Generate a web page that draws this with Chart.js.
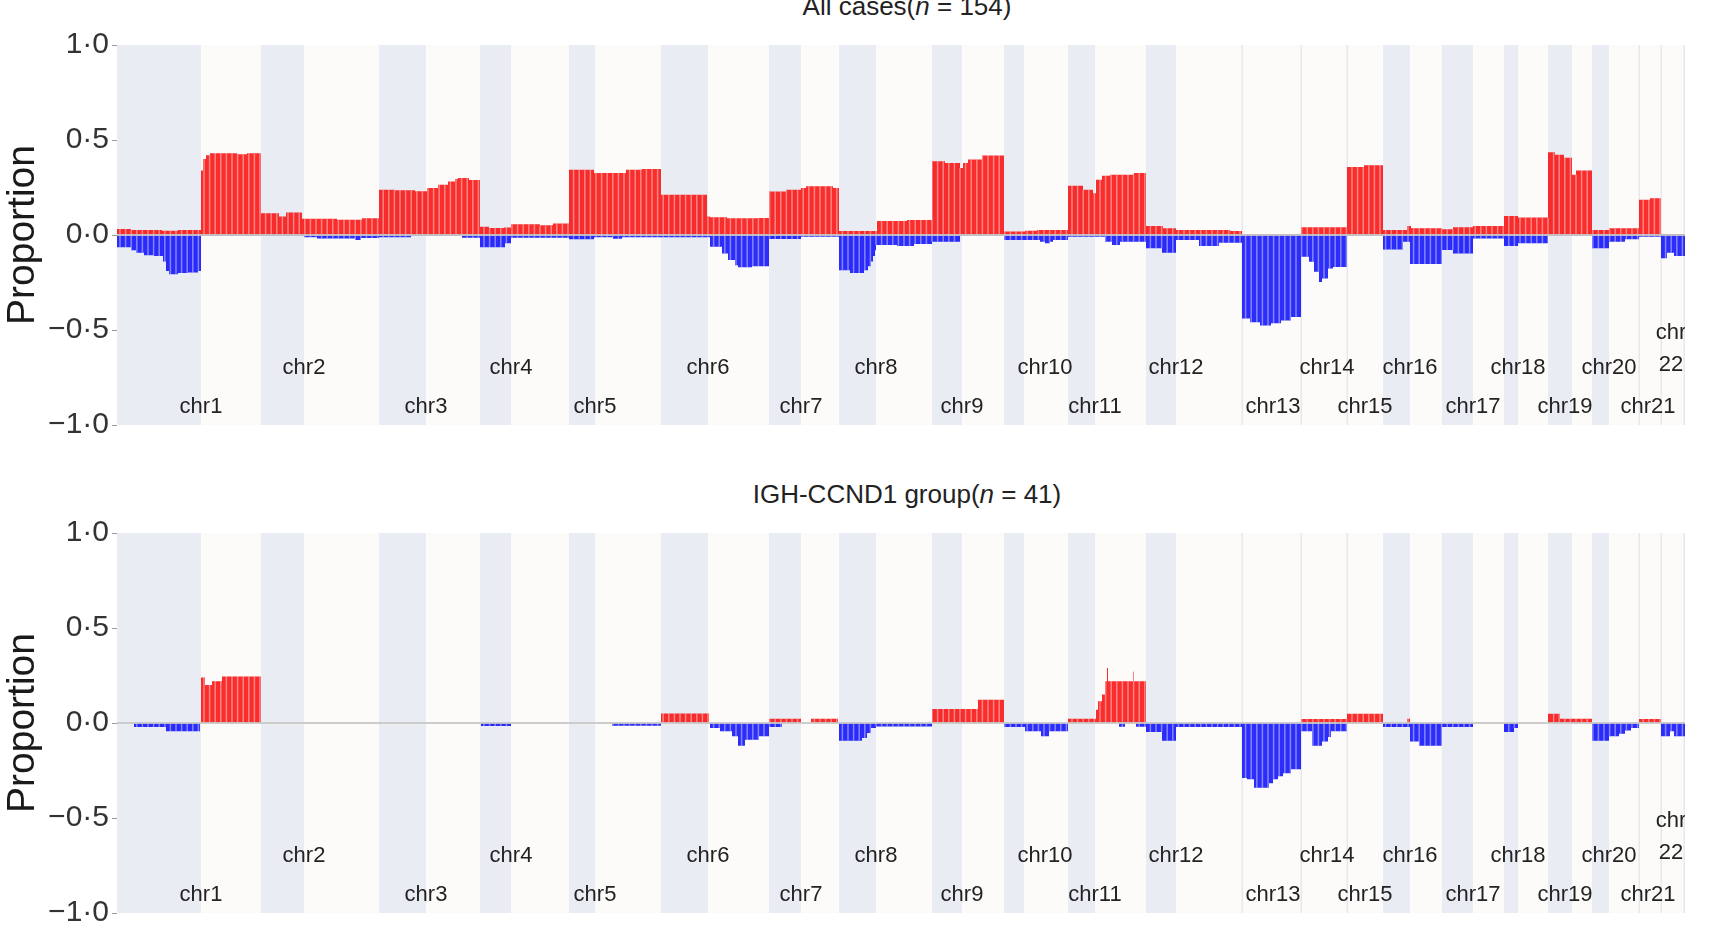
<!DOCTYPE html>
<html><head><meta charset="utf-8">
<script src="https://cdn.jsdelivr.net/npm/chart.js@4.4.1/dist/chart.umd.min.js"></script>
<style>
html,body{margin:0;padding:0;background:#fff;width:1724px;height:946px;overflow:hidden;font-family:"Liberation Sans",Arial,sans-serif;}
.title{position:absolute;left:0;width:1814px;text-align:center;font-size:26px;line-height:30px;color:#222;white-space:nowrap;}
canvas{position:absolute;left:0;}
</style></head><body>
<div class="title" style="top:-9px">All cases(<i>n</i> = 154)</div>
<canvas id="c1" width="1724" height="460" style="top:0"></canvas>
<div class="title" style="top:479px">IGH-CCND1 group(<i>n</i> = 41)</div>
<canvas id="c2" width="1724" height="486" style="top:460px"></canvas>
<script>
// ---------- data ----------
const chromosomes = ['chr1','chr2','chr3','chr4','chr5','chr6','chr7','chr8','chr9','chr10','chr11',
  'chr12','chr13','chr14','chr15','chr16','chr17','chr18','chr19','chr20','chr21','chr22'];
// chromosome extents in plot bins, p-arm lengths (0 = acrocentric), and label anchor bins
const chromLength = [144,118,101,89,92,108,70,93,72,64,78,96,59,46,36,59,62,44,44,47,22,24];
const pArmLength  = [84,43,47,31,26,47,32,37,30,20,27,30,0,0,0,27,31,14,24,17,0,0];
const labelAt     = [84,187,309,394,478,591,684,759,845,928,978,1059,1156,1210,1248,1293,1356,1401,1448,1492,1531,1554];
const yTicks = [-1, -0.5, 0, 0.5, 1];

// step profiles: [bin where the value starts, proportion]
const allGain = [[0,0.032],[14,0.026],[45,0.023],[61,0.026],[84,0.34],[86,0.40],[89,0.42],[93,0.43],[120,0.425],[130,0.43],
[144,0.115],[162,0.097],[169,0.118],[185,0.085],[220,0.08],[245,0.088],
[262,0.238],[278,0.235],[298,0.23],[310,0.247],[321,0.265],[331,0.282],[338,0.295],[341,0.30],[352,0.29],
[363,0.044],[372,0.037],[387,0.04],[394,0.056],[423,0.051],[436,0.06],
[452,0.344],[477,0.326],[509,0.344],[525,0.347],
[544,0.212],[590,0.097],[593,0.093],[610,0.088],[640,0.09],
[652,0.229],[669,0.238],[684,0.247],[689,0.256],[716,0.247],
[722,0.021],[760,0.074],[790,0.079],
[815,0.388],[828,0.379],[843,0.353],[846,0.379],[851,0.397],[865,0.418],
[887,0.018],[908,0.023],[920,0.026],
[951,0.259],[966,0.238],[976,0.22],[979,0.291],[985,0.312],[993,0.317],[1017,0.326],
[1029,0.048],[1046,0.035],[1059,0.026],[1113,0.021],
[1125,0.004],
[1184,0.041],
[1230,0.358],[1247,0.367],
[1266,0.026],[1290,0.048],[1294,0.035],
[1325,0.03],[1336,0.041],[1356,0.048],
[1387,0.10],[1401,0.092],
[1431,0.436],[1438,0.423],[1447,0.406],[1455,0.317],[1459,0.34],
[1475,0.026],[1492,0.035],
[1522,0.185],[1533,0.194],
[1544,0.005],[1568,0.005]];

const allLoss = [[0,-0.065],[14,-0.08],[19,-0.093],[27,-0.106],[37,-0.11],[46,-0.14],[49,-0.19],[52,-0.206],[61,-0.2],[71,-0.198],[81,-0.19],[84,-0.004],
[144,-0.004],[187,-0.012],[200,-0.018],[238,-0.026],[244,-0.016],
[262,-0.012],[294,-0.004],[345,-0.014],
[363,-0.065],[388,-0.044],[394,-0.014],
[452,-0.023],[477,-0.012],[496,-0.02],[505,-0.012],
[544,-0.012],[593,-0.062],[605,-0.097],[611,-0.132],[618,-0.159],[621,-0.17],[635,-0.164],
[652,-0.021],[684,-0.009],
[722,-0.185],[733,-0.2],[747,-0.185],[751,-0.165],[754,-0.14],[756,-0.11],[758,-0.08],[759,-0.053],[780,-0.058],[797,-0.048],
[815,-0.035],[843,-0.003],
[887,-0.026],[923,-0.035],[928,-0.044],[933,-0.035],[936,-0.026],
[951,-0.009],[988,-0.035],[995,-0.053],[1003,-0.035],
[1029,-0.07],[1045,-0.093],[1059,-0.026],[1082,-0.058],[1102,-0.041],
[1125,-0.44],[1133,-0.459],[1143,-0.476],[1154,-0.464],[1164,-0.45],[1174,-0.432],
[1184,-0.115],[1192,-0.141],[1197,-0.194],[1202,-0.247],[1205,-0.229],[1211,-0.176],[1216,-0.168],
[1230,-0.002],
[1266,-0.076],[1286,-0.035],[1293,-0.153],
[1325,-0.079],[1336,-0.097],[1356,-0.019],
[1387,-0.058],[1401,-0.044],
[1431,-0.003],
[1475,-0.07],[1492,-0.035],[1508,-0.023],
[1522,-0.009],
[1544,-0.123],[1550,-0.093],[1557,-0.11],[1568,-0.11]];

const ighGain = [[0,0],[84,0.24],[88,0.20],[95,0.22],[105,0.245],[144,0],
[544,0.05],[592,0],
[652,0.023],[684,0],[694,0.023],[721,0],
[815,0.074],[861,0.123],[887,0],
[951,0.023],[979,0.07],[981,0.115],[985,0.15],[988,0.22],[990,0.29],[991,0.22],[1016,0.27],[1017,0.22],[1029,0],
[1184,0.021],[1230,0.049],[1266,0],
[1290,0.023],[1293,0],
[1431,0.049],[1443,0.023],[1475,0],
[1522,0.021],[1544,0],[1568,0]];

const ighLoss = [[0,0],[17,-0.021],[49,-0.044],[83,0],
[364,-0.016],[394,0],
[495,-0.014],[544,0],
[593,-0.026],[603,-0.044],[615,-0.07],[621,-0.12],[628,-0.088],[642,-0.07],[652,-0.021],[665,0],
[722,-0.093],[745,-0.079],[750,-0.053],[754,-0.026],[759,-0.018],[815,0],
[887,-0.021],[908,-0.044],[924,-0.07],[932,-0.044],[951,0],
[1002,-0.02],[1008,0],[1019,-0.02],
[1029,-0.048],[1045,-0.093],[1059,-0.021],
[1125,-0.29],[1130,-0.296],[1137,-0.341],[1152,-0.317],[1156,-0.296],[1161,-0.28],[1166,-0.265],[1174,-0.243],
[1184,-0.044],[1195,-0.12],[1205,-0.097],[1211,-0.074],[1214,-0.044],[1230,0],
[1266,-0.021],[1293,-0.097],[1302,-0.12],[1325,-0.021],[1356,0],
[1387,-0.048],[1397,-0.026],[1401,0],
[1475,-0.093],[1492,-0.07],[1502,-0.056],[1508,-0.039],[1514,-0.026],[1522,0],
[1544,-0.07],[1553,-0.044],[1557,-0.07],[1568,-0.07]];

// ---------- drawing ----------
const FONT = '"Liberation Sans", Arial, sans-serif';
const RED = 'rgba(248,10,10,0.86)';
const BLUE = 'rgba(10,10,250,0.86)';
const BAND_P = '#E9EDF3';
const BAND_Q = '#FCFBF9';
const chromStart = [];
chromLength.reduce((acc, l) => { chromStart.push(acc); return acc + l; }, 0);
const totalBins = chromLength.reduce((a, b) => a + b, 0);

function stepValue(bps, x) {
  let v = 0;
  for (const [bx, by] of bps) { if (bx <= x) v = by; else break; }
  return v;
}
function fmt(v) {
  return (v < 0 ? '\u2212' : '') + Math.abs(v).toFixed(1).replace('.', '\u00B7');
}

const genomePlugin = {
  id: 'genome',
  beforeDatasetsDraw(chart) {
    const {ctx, chartArea: a, scales: {x}} = chart;
    ctx.save();
    ctx.fillStyle = BAND_Q;
    ctx.fillRect(a.left, a.top, a.right - a.left, a.bottom - a.top);
    chromosomes.forEach((n, i) => {
      const s = chromStart[i];
      if (pArmLength[i] > 0) {
        const x0 = x.getPixelForValue(s), x1 = x.getPixelForValue(s + pArmLength[i]);
        ctx.fillStyle = BAND_P;
        ctx.fillRect(x0, a.top, x1 - x0, a.bottom - a.top);
      } else {
        const x0 = x.getPixelForValue(s);
        ctx.fillStyle = '#E6E8EC';
        ctx.fillRect(x0 - 0.5, a.top, 1.5, a.bottom - a.top);
      }
    });
    ctx.fillStyle = '#E6E8EC';
    ctx.fillRect(x.getPixelForValue(totalBins) - 1.5, a.top, 1.5, a.bottom - a.top);
    ctx.restore();
  },
  afterDatasetsDraw(chart) {
    const {ctx, chartArea: a, scales: {x, y}} = chart;
    const y0 = y.getPixelForValue(0);
    ctx.save();
    // light seams between adjacent bars
    ctx.strokeStyle = 'rgba(255,255,255,0.42)';
    ctx.lineWidth = 1.5;
    chart.data.datasets.forEach(ds => {
      const bps = ds.profile;
      for (let px = a.left + 3; px < a.right - 1; px += 5.6) {
        const v = stepValue(bps, x.getValueForPixel(px));
        if (Math.abs(v) < 0.006) continue;
        ctx.beginPath();
        ctx.moveTo(px, y0);
        ctx.lineTo(px, y.getPixelForValue(v));
        ctx.stroke();
      }
    });
    // zero line
    ctx.strokeStyle = 'rgba(200,200,200,0.9)';
    ctx.lineWidth = 2;
    ctx.beginPath(); ctx.moveTo(a.left, y0); ctx.lineTo(a.right, y0); ctx.stroke();
    // chromosome labels
    ctx.beginPath();
    ctx.rect(a.left, a.top, a.right - a.left, a.bottom - a.top);
    ctx.clip();
    ctx.font = '22px ' + FONT;
    ctx.fillStyle = '#222';
    ctx.textAlign = 'center';
    ctx.textBaseline = 'middle';
    chromosomes.forEach((name, i) => {
      const px = x.getPixelForValue(labelAt[i]);
      const w = ctx.measureText(name).width;
      if (px + w / 2 > a.right) {
        ctx.fillText('chr', px, y.getPixelForValue(-0.516));
        ctx.fillText(name.slice(3), px, y.getPixelForValue(-0.684));
      } else {
        ctx.fillText(name, px, y.getPixelForValue(i % 2 === 0 ? -0.905 : -0.70));
      }
    });
    ctx.restore();
  }
};

function makePanel(id, gain, loss, padTop, padBottom) {
  const toXY = arr => arr.map(([x, y]) => ({x, y}));
  return new Chart(document.getElementById(id), {
    type: 'line',
    data: {
      datasets: [
        {label: 'gain', profile: gain, data: toXY(gain), stepped: true, fill: 'origin',
         backgroundColor: RED, borderColor: 'rgba(0,0,0,0)', borderWidth: 0, pointRadius: 0},
        {label: 'loss', profile: loss, data: toXY(loss), stepped: true, fill: 'origin',
         backgroundColor: BLUE, borderColor: 'rgba(0,0,0,0)', borderWidth: 0, pointRadius: 0}
      ]
    },
    options: {
      responsive: false,
      animation: false,
      devicePixelRatio: 1,
      layout: {padding: {top: padTop, bottom: padBottom, right: 39, left: 0}},
      plugins: {legend: {display: false}, tooltip: {enabled: false}, title: {display: false}},
      scales: {
        x: {type: 'linear', min: 0, max: totalBins, display: false},
        y: {
          min: -1, max: 1,
          afterBuildTicks: s => { s.ticks = yTicks.map(v => ({value: v})); },
          afterFit: s => { s.width = 117; },
          ticks: {callback: v => fmt(v), font: {family: FONT, size: 30}, color: '#333', padding: 3},
          grid: {display: true, drawOnChartArea: false, drawTicks: true, tickLength: 5, color: '#9a9a9a'},
          border: {display: false},
          title: {display: true, text: 'Proportion', font: {family: FONT, size: 39}, color: '#1a1a1a', padding: 0}
        }
      }
    },
    plugins: [genomePlugin]
  });
}

makePanel('c1', allGain, allLoss, 45, 35);
makePanel('c2', ighGain, ighLoss, 73, 33);
</script>
</body></html>
